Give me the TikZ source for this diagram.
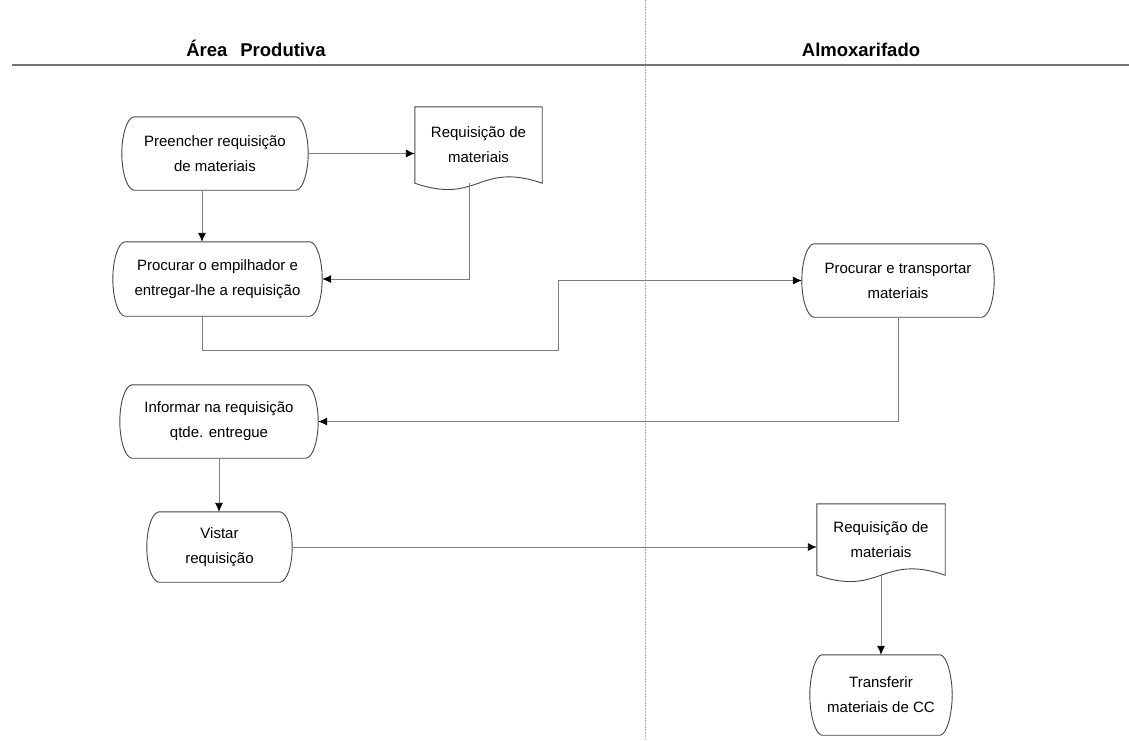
\documentclass[tikz,border=0pt]{standalone}
\usepackage{fontspec}
\setmainfont{Liberation Sans}
\usetikzlibrary{arrows.meta,calc}

\definecolor{wire}{RGB}{125,125,125}
\definecolor{edge}{RGB}{70,70,70}
\definecolor{lanegray}{RGB}{175,175,175}
\definecolor{rulegray}{RGB}{115,115,115}

\tikzset{
  proc/.style={inner sep=0pt, align=center, font=\fontsize{15}{25}\selectfont},
  outline/.style={draw=edge, line width=0.9pt},
  flow/.style={draw=wire, line width=0.9pt, -{Latex[length=9pt,width=8pt,color=black]}},
  lanehead/.style={inner sep=0pt, font=\fontsize{18.5}{22}\bfseries\selectfont},
}

% rounded process box with bowed left and right sides
\newcommand\drawterm[1]{%
  \draw[outline] ([xshift=12pt]#1.north west) -- ([xshift=-12pt]#1.north east)
    .. controls ([xshift=-5pt,yshift=-1pt]#1.north east) and ([yshift=18pt]#1.east) .. (#1.east)
    .. controls ([yshift=-18pt]#1.east) and ([xshift=-5pt,yshift=1pt]#1.south east) .. ([xshift=-12pt]#1.south east)
    -- ([xshift=12pt]#1.south west)
    .. controls ([xshift=5pt,yshift=1pt]#1.south west) and ([yshift=-18pt]#1.west) .. (#1.west)
    .. controls ([yshift=18pt]#1.west) and ([xshift=5pt,yshift=-1pt]#1.north west) .. cycle;}

% document symbol: rectangle with a wavy lower edge
\newcommand\drawdoc[1]{%
  \draw[outline] (#1.north west) -- (#1.north east) -- (#1.south east)
    .. controls ([yshift=22pt]#1.south) and ([yshift=-22pt]#1.south) .. (#1.south west)
    -- cycle;}

\begin{document}
\begin{tikzpicture}[x=1pt,y=-1pt]
  \useasboundingbox (0,0) rectangle (1129,740);
  \fill[white] (0,0) rectangle (1129,740);

  % swimlane frame
  \coordinate (vtop) at (645.5,0);
  \coordinate (vbot) at (645.5,740);
  \coordinate (hl) at (12,65);
  \coordinate (hr) at (1129,65);
  \draw[lanegray, line width=0.8pt, dash pattern=on 1.5pt off 1.5pt] (vtop) -- (vbot);
  \draw[rulegray, line width=1.2pt] (hl) -- (hr);

  \node[lanehead] (h1) at (256,48) {Área\hspace{13pt}Produtiva};
  \node[lanehead] (h2) at (861,50) {Almoxarifado};

  % process steps
  \node[proc, minimum width=186pt, minimum height=73pt] (n1) at (215,153.5) {Preencher requisição\\de materiais};
  \node[proc, minimum width=209pt, minimum height=74pt] (n2) at (217.5,279) {Procurar o empilhador e\\entregar-lhe a requisição};
  \node[proc, minimum width=192pt, minimum height=73pt] (n3) at (898,280.5) {Procurar e transportar\\materiais};
  \node[proc, minimum width=198pt, minimum height=73pt] (n4) at (219,421.5) {Informar na requisição\\qtde. entregue};
  \node[proc, minimum width=145pt, minimum height=70pt] (n5) at (219.5,547) {Vistar\\requisição};
  \node[proc, minimum width=142pt, minimum height=80pt] (n6) at (881,695) {Transferir\\materiais de CC};

  % documents
  \node[proc, minimum width=127pt, minimum height=76pt] (d1) at (478.5,145) {Requisição de\\materiais};
  \node[proc, minimum width=128pt, minimum height=71pt] (d2) at (881,539.5) {Requisição de\\materiais};

  \drawterm{n1}\drawterm{n2}\drawterm{n3}\drawterm{n4}\drawterm{n5}\drawterm{n6}
  \drawdoc{d1}\drawdoc{d2}

  % flow
  \coordinate (k1) at (558,350);
  \draw[flow] (n1.east) -- (n1.east -| d1.west);
  \draw[flow] ([xshift=-13pt]n1.south) -- ([xshift=-13pt]n1.south |- n2.north);
  \draw[flow] ([xshift=-9.5pt]d1.south) |- (n2.east);
  \draw[flow] ([xshift=-15pt]n2.south) |- (k1) |- (n3.west);
  \draw[flow] (n3.south) |- (n4.east);
  \draw[flow] (n4.south) -- (n4.south |- n5.north);
  \draw[flow] (n5.east) -- (n5.east -| d2.west);
  \draw[flow] (d2.south) -- (d2.south |- n6.north);
\end{tikzpicture}
\end{document}
